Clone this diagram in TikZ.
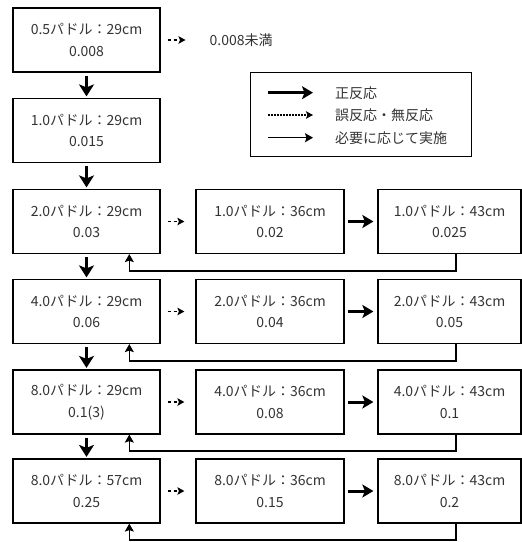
\documentclass[tikz,border=0pt]{standalone}
\usepackage{fontspec}
\setmainfont{Noto Sans CJK JP}
\usetikzlibrary{arrows.meta}
\begin{document}
\begin{tikzpicture}[x=1pt,y=-1pt,
  box/.style={draw, line width=1.2pt, minimum width=147pt, minimum height=64pt, align=center, font=\fontsize{14}{21.5}\selectfont, text=black!80, inner sep=0pt},
  posarrow/.style={-{Stealth[length=12pt,width=15pt,inset=3pt]}, line width=3pt},
  hposarrow/.style={-{Stealth[length=11pt,width=13pt,inset=2.5pt]}, line width=3pt},
  negarrow/.style={-{Stealth[length=7pt,width=7.5pt,inset=1.5pt]}, line width=1.3pt, dash pattern=on 3.3pt off 2.7pt},
  optarrow/.style={-{Stealth[length=8pt,width=9pt,inset=1.5pt]}, line width=1.3pt},
  lbl/.style={font=\fontsize{14}{16}\selectfont, text=black!80, anchor=west, inner sep=0pt}]
\useasboundingbox (0,0) rectangle (522,542);
% left column
\node[box] (a1) at (86.5,40) {0.5パドル：29cm\\0.008};
\node[box] (a2) at (86.5,130.5) {1.0パドル：29cm\\0.015};
\node[box] (a3) at (86.5,221.5) {2.0パドル：29cm\\0.03};
\node[box] (a4) at (86.5,311.5) {4.0パドル：29cm\\0.06};
\node[box] (a5) at (86.5,402) {8.0パドル：29cm\\0.1(3)};
\node[box] (a6) at (86.5,491) {8.0パドル：57cm\\0.25};
% middle column
\node[box, minimum width=148pt] (b3) at (270,221.5) {1.0パドル：36cm\\0.02};
\node[box, minimum width=148pt] (b4) at (270,311.5) {2.0パドル：36cm\\0.04};
\node[box, minimum width=148pt] (b5) at (270,402) {4.0パドル：36cm\\0.08};
\node[box, minimum width=148pt] (b6) at (270,491) {8.0パドル：36cm\\0.15};
% right column
\node[box, minimum width=143pt] (c3) at (449.5,221.5) {1.0パドル：43cm\\0.025};
\node[box, minimum width=143pt] (c4) at (449.5,311.5) {2.0パドル：43cm\\0.05};
\node[box, minimum width=143pt] (c5) at (449.5,402) {4.0パドル：43cm\\0.1};
\node[box, minimum width=143pt] (c6) at (449.5,491) {8.0パドル：43cm\\0.2};
% text
\node[lbl] (t1) at (209.5,40) {0.008未満};
% down arrows
\foreach \u/\v in {a1/a2,a2/a3,a3/a4,a4/a5,a5/a6}
  \draw[posarrow] ([yshift=-3pt]\u.south) -- ([yshift=1.5pt]\v.north);
% dashed arrows
\draw[negarrow] ([xshift=7pt]a1.east) -- ([xshift=-24pt]t1.west);
\foreach \u/\v in {a3/b3,a4/b4,a5/b5,a6/b6}
  \draw[negarrow] ([xshift=7pt]\u.east) -- ([xshift=-11pt]\v.west);
% thick arrows
\foreach \u/\v in {b3/c3,b4/c4,b5/c5,b6/c6}
  \draw[hposarrow] ([xshift=3pt]\u.east) -- ([xshift=-4pt]\v.west);
% feedback
\draw[optarrow] (c3.south -| 456,0) |- (129.3,271) -- (a3.south -| 129.3,0);
\draw[optarrow] (c4.south -| 456,0) |- (129.3,361) -- (a4.south -| 129.3,0);
\draw[optarrow] (c5.south -| 456,0) |- (129.3,451) -- (a5.south -| 129.3,0);
\draw[optarrow] (c6.south -| 456,0) |- (129.3,540) -- (a6.south -| 129.3,0);
% legend
\node[draw, line width=1.2pt, minimum width=221pt, minimum height=84pt, inner sep=0pt] (leg) at (361.2,114.7) {};
\coordinate (l1a) at (268,92.7); \coordinate (l1b) at (313,92.7);
\coordinate (l2a) at (268,115); \coordinate (l2b) at (313,115);
\coordinate (l3a) at (268,137.7); \coordinate (l3b) at (313,137.7);
\draw[hposarrow] (l1a) -- (l1b);
\draw[negarrow, dash pattern=on 1.5pt off 1.5pt] (l2a) -- (l2b);
\draw[optarrow] (l3a) -- (l3b);
\node[lbl] (g1) at (335,92.7) {正反応};
\node[lbl] (g2) at (335,115) {誤反応・無反応};
\node[lbl] (g3) at (335,137.7) {必要に応じて実施};
\end{tikzpicture}
\end{document}
